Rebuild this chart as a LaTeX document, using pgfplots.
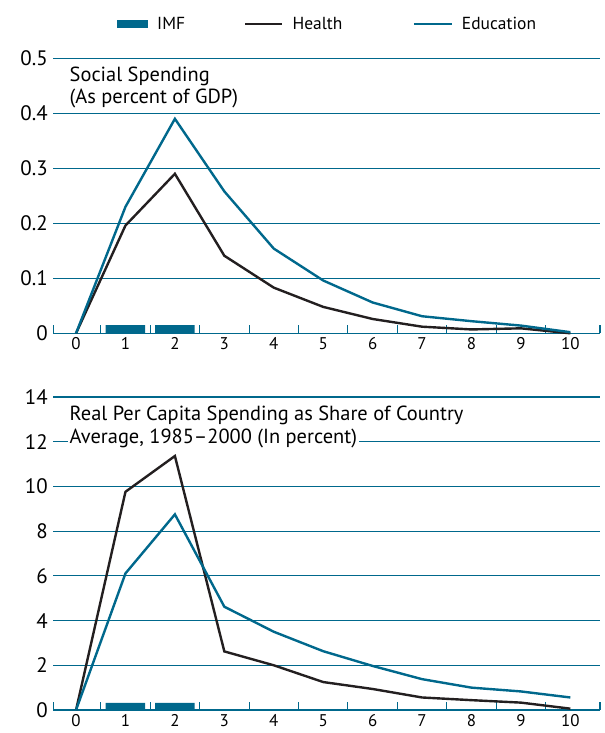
\documentclass[border=0pt]{standalone}
\usepackage{pgfplots}
\pgfplotsset{compat=1.18}
\usepackage{fontspec}
\setmainfont{PT Sans}
\definecolor{teal1}{RGB}{0,104,140}
\definecolor{hblack}{RGB}{35,31,32}

\pgfplotsset{
  mystyle/.style={
    scale only axis, width=546.7bp,
    xmin=-0.46, xmax=10.6,
    xtick={0,1,2,3,4,5,6,7,8,9,10},
    minor xtick={-0.46,0.5,1.5,2.5,3.5,4.5,5.5,6.5,7.5,8.5,9.5,10.6},
    major tick length=0pt, minor tick length=8bp,
    tick align=inside,
    axis x line*=bottom, axis y line*=left,
    x axis line style={teal1, line width=1.3bp, -},
    y axis line style={draw=none},
    ymajorgrids, major grid style={teal1, line width=1.1bp},
    minor tick style={teal1, line width=1.1bp},
    xminorgrids=false,
    /pgf/number format/assume math mode=true,
    xticklabel style={font=\fontsize{17}{17}\selectfont, yshift=-1bp},
    yticklabel style={font=\fontsize{21}{21}\selectfont, anchor=east, xshift=-2bp},
    clip=false,
  }
}

\begin{document}
\begin{tikzpicture}[x=1bp,y=1bp]
\path[use as bounding box] (0,0) rectangle (605,733);

% ---------- Top panel ----------
\begin{axis}[mystyle,
  at={(53.3bp,399.7bp)}, anchor=south west,
  height=275bp,
  ymin=0, ymax=0.5,
  ytick={0,0.1,0.2,0.3,0.4,0.5},
  yticklabels={0,0.1,0.2,0.3,0.4,0.5},
  legend columns=3,
  legend style={at={(rel axis cs:0.1165,1.124)}, anchor=west, draw=none, fill=none,
    inner sep=0pt, nodes={inner sep=0pt},
    font=\fontsize{17.5}{17.5}\selectfont, column sep=0pt,
    /tikz/every odd column/.append style={column sep=9bp}},
  legend cell align=left,
]
\addplot[ybar, bar width=0.8, bar shift=0pt, fill=teal1, draw=none,
  legend image code/.code={\fill[teal1] (0bp,-4bp) rectangle (31bp,4bp);}]
  coordinates {(1,0.015) (2,0.015)};
\addlegendentry{\makebox[87bp][l]{IMF}}
\addplot[hblack, line width=2.4bp, sharp plot,
  legend image code/.code={\draw[hblack, line width=2.4bp] (0bp,0bp) -- (37bp,0bp);}]
  coordinates {(0,0) (1,0.196) (2,0.290) (3,0.141) (4,0.083) (5,0.048) (6,0.026) (7,0.012) (8,0.007) (9,0.009) (10,0)};
\addlegendentry{\makebox[120bp][l]{Health}}
\addplot[teal1, line width=2.4bp, sharp plot,
  legend image code/.code={\draw[teal1, line width=2.4bp] (0bp,0bp) -- (38bp,0bp);}]
  coordinates {(0,0) (1,0.23) (2,0.39) (3,0.258) (4,0.154) (5,0.096) (6,0.056) (7,0.031) (8,0.022) (9,0.014) (10,0.002)};
\addlegendentry{Education}
\node[anchor=base west, fill=white, inner sep=2bp, font=\fontsize{20.5}{20.5}\selectfont]
  at (rel axis cs:0.026,0.917) {Social Spending};
\node[anchor=base west, fill=white, inner sep=2bp, font=\fontsize{20.5}{20.5}\selectfont]
  at (rel axis cs:0.026,0.835) {(As percent of GDP)};
\end{axis}

% ---------- Bottom panel ----------
\begin{axis}[mystyle,
  at={(53.3bp,23bp)}, anchor=south west,
  height=313bp,
  ymin=0, ymax=14,
  ytick={0,2,4,6,8,10,12,14},
  yticklabels={0,2,4,6,8,10,12,14},
]
\addplot[ybar, bar width=0.8, bar shift=0pt, fill=teal1, draw=none]
  coordinates {(1,0.32) (2,0.32)};
\addplot[hblack, line width=2.4bp, sharp plot]
  coordinates {(0,0) (1,9.76) (2,11.36) (3,2.62) (4,2.0) (5,1.25) (6,0.94) (7,0.56) (8,0.44) (9,0.33) (10,0.06)};
\addplot[teal1, line width=2.4bp, sharp plot]
  coordinates {(0,0) (1,6.11) (2,8.75) (3,4.62) (4,3.5) (5,2.63) (6,1.97) (7,1.38) (8,1.0) (9,0.83) (10,0.56)};
\node[anchor=base west, fill=white, inner sep=2bp, font=\fontsize{20.5}{20.5}\selectfont]
  at (rel axis cs:0.026,0.926) {Real Per Capita Spending as Share of Country};
\node[anchor=base west, fill=white, inner sep=2bp, font=\fontsize{20.5}{20.5}\selectfont]
  at (rel axis cs:0.026,0.850) {Average, 1985--2000 (In percent)};
\end{axis}
\end{tikzpicture}
\end{document}
